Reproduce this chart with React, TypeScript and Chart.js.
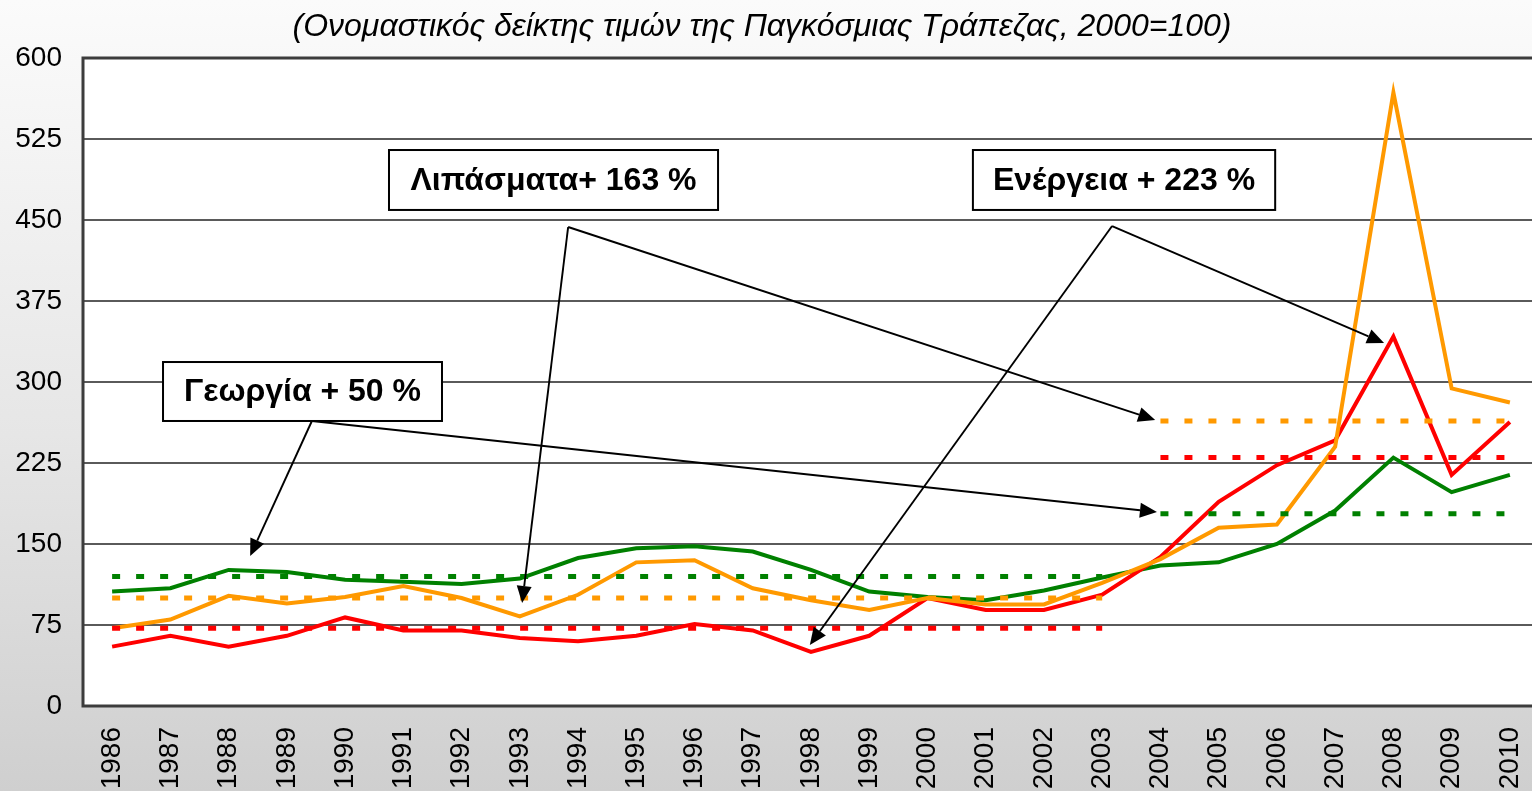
import { useEffect, useRef } from 'react';
import { Chart, registerables } from 'chart.js';

Chart.register(...registerables);

const titleText = '(Ονομαστικός δείκτης τιμών της Παγκόσμιας Τράπεζας, 2000=100)';

const years = ['1986', '1987', '1988', '1989', '1990', '1991', '1992', '1993', '1994', '1995', '1996', '1997', '1998', '1999', '2000', '2001', '2002', '2003', '2004', '2005', '2006', '2007', '2008', '2009', '2010'];

const agriculture = [106, 109, 126, 124, 117, 115, 113, 118, 137, 146, 148, 143, 126, 106, 101, 98, 107, 119, 130, 133, 150, 181, 230, 198, 214];
const fertilizers = [72, 80, 102, 95, 101, 111, 100, 83, 103, 133, 135, 109, 98, 89, 100, 94, 94, 114, 136, 165, 168, 240, 568, 294, 281];
const energy = [55, 65, 55, 65, 82, 70, 70, 63, 60, 65, 76, 70, 50, 65, 100, 89, 89, 103, 138, 189, 223, 246, 342, 214, 263];

// period averages: 1986–2003 and 2004–2010
const earlyYears = years.slice(0, 18);
const lateYears = years.slice(18);
const agriAvg = [120, 178];
const fertAvg = [100, 264];
const energyAvg = [72, 230];

const yTicks = [0, 75, 150, 225, 300, 375, 450, 525, 600];

const GREEN = '#008000';
const ORANGE = '#FF9900';
const RED = '#FF0000';

function periodLine(avg: number[], early: boolean) {
  return years.map((y) => {
    if (early) return earlyYears.includes(y) ? avg[0] : null;
    return lateYears.includes(y) ? avg[1] : null;
  });
}

// annotation boxes (anchored in data coordinates: category index, value)
const boxes = [
  { text: 'Λιπάσματα+ 163 %', x0: 4.754, x1: 10.404, yTop: 514.8, yBot: 459.3 },
  { text: 'Ενέργεια + 223 %', x0: 14.78, x1: 19.97, yTop: 514.8, yBot: 459.3 },
  { text: 'Γεωργία + 50 %', x0: 0.874, x1: 5.664, yTop: 318.5, yBot: 263.9 },
];

const arrows = [
  { from: [7.83, 443.5], to: [17.91, 264.8] },
  { from: [7.83, 443.5], to: [7.04, 95.4] },
  { from: [17.17, 444.4], to: [21.84, 336.1] },
  { from: [17.17, 444.4], to: [11.98, 56.5] },
  { from: [3.43, 263.9], to: [2.37, 138.9] },
  { from: [3.43, 263.9], to: [17.94, 179.6] },
];

const FONT = '"Liberation Sans", Arial, sans-serif';

const decorPlugin = {
  id: 'decor',
  beforeDraw(chart: any) {
    const { ctx, chartArea: a } = chart;
    ctx.save();
    ctx.fillStyle = '#ffffff';
    ctx.fillRect(a.left, a.top, a.right - a.left, a.bottom - a.top);
    ctx.restore();
  },
  beforeDatasetsDraw(chart: any) {
    const { ctx, chartArea: a } = chart;
    ctx.save();
    ctx.strokeStyle = '#3c3c3c';
    ctx.lineWidth = 3;
    ctx.strokeRect(a.left, a.top, a.right - a.left, a.bottom - a.top);
    ctx.restore();
  },
  afterDraw(chart: any) {
    const { ctx } = chart;
    const xs = chart.scales.x;
    const ys = chart.scales.y;
    const px = (i: number) => {
      const p0 = xs.getPixelForValue(0);
      const p1 = xs.getPixelForValue(1);
      return p0 + (p1 - p0) * i;
    };
    const py = (v: number) => ys.getPixelForValue(v);
    ctx.save();
    // title
    ctx.fillStyle = '#000';
    ctx.font = `italic 32px ${FONT}`;
    ctx.textAlign = 'center';
    ctx.textBaseline = 'middle';
    ctx.fillText(titleText, 762, 27, 940);

    // arrows
    ctx.strokeStyle = '#000';
    ctx.fillStyle = '#000';
    ctx.lineWidth = 1.9;
    arrows.forEach((ar) => {
      const x0 = px(ar.from[0]);
      const y0 = py(ar.from[1]);
      const x1 = px(ar.to[0]);
      const y1 = py(ar.to[1]);
      const ang = Math.atan2(y1 - y0, x1 - x0);
      const L = 17;
      const W = 7.5;
      const bx = x1 - L * Math.cos(ang);
      const by = y1 - L * Math.sin(ang);
      ctx.beginPath();
      ctx.moveTo(x0, y0);
      ctx.lineTo(bx, by);
      ctx.stroke();
      ctx.beginPath();
      ctx.moveTo(x1, y1);
      ctx.lineTo(bx + W * Math.sin(ang), by - W * Math.cos(ang));
      ctx.lineTo(bx - W * Math.sin(ang), by + W * Math.cos(ang));
      ctx.closePath();
      ctx.fill();
    });

    // boxes
    boxes.forEach((b) => {
      const l = px(b.x0);
      const r = px(b.x1);
      const t = py(b.yTop);
      const bt = py(b.yBot);
      ctx.fillStyle = '#ffffff';
      ctx.fillRect(l, t, r - l, bt - t);
      ctx.strokeStyle = '#000';
      ctx.lineWidth = 2;
      ctx.strokeRect(l, t, r - l, bt - t);
      ctx.fillStyle = '#000';
      ctx.font = `bold 32px ${FONT}`;
      ctx.textAlign = 'center';
      ctx.textBaseline = 'middle';
      ctx.fillText(b.text, (l + r) / 2, (t + bt) / 2 + 1);
    });
    ctx.restore();
  },
};

export default function App() {
  const ref = useRef<HTMLCanvasElement | null>(null);

  useEffect(() => {
    document.body.style.margin = '0';
    document.body.style.overflow = 'hidden';
    const canvas = ref.current;
    if (!canvas) return;
    const dashed = (data: (number | null)[], color: string) => ({
      data,
      borderColor: color,
      backgroundColor: color,
      borderWidth: 5,
      borderDash: [8, 16],
      borderCapStyle: 'butt',
      pointRadius: 0,
      tension: 0,
      spanGaps: false,
      fill: false,
    });
    const solid = (data: number[], color: string, label: string) => ({
      label,
      data,
      borderColor: color,
      backgroundColor: color,
      borderWidth: 4,
      pointRadius: 0,
      tension: 0,
      fill: false,
    });
    const chart = new Chart(canvas, {
      type: 'line',
      data: {
        labels: years,
        datasets: [
          dashed(periodLine(agriAvg, true), GREEN),
          dashed(periodLine(fertAvg, true), ORANGE),
          dashed(periodLine(energyAvg, true), RED),
          dashed(periodLine(agriAvg, false), GREEN),
          dashed(periodLine(fertAvg, false), ORANGE),
          dashed(periodLine(energyAvg, false), RED),
          solid(fertilizers, ORANGE, 'Λιπάσματα'),
          solid(energy, RED, 'Ενέργεια'),
          solid(agriculture, GREEN, 'Γεωργία'),
        ] as any,
      },
      options: {
        responsive: false,
        animation: false,
        devicePixelRatio: 1,
        layout: { padding: { top: 58, right: 21, left: 0, bottom: 0 } },
        plugins: {
          legend: { display: false },
          title: { display: false },
          tooltip: { enabled: false },
        },
        scales: {
          x: {
            offset: true,
            grid: { display: false, drawTicks: false, offset: true },
            border: { display: false },
            ticks: {
              color: '#000',
              font: { family: FONT, size: 28 },
              minRotation: 90,
              maxRotation: 90,
              autoSkip: false,
              padding: 21,
            },
            afterFit: (s: any) => {
              s.height = 94;
              s.paddingLeft = 0;
              s.paddingRight = 0;
            },
          },
          y: {
            min: 0,
            max: 600,
            afterBuildTicks: (s: any) => {
              s.ticks = yTicks.map((v) => ({ value: v }));
            },
            grid: { color: '#5a5a5a', lineWidth: 2, drawTicks: false },
            border: { display: false },
            ticks: {
              color: '#000',
              font: { family: FONT, size: 28 },
              padding: 21,
            },
            afterFit: (s: any) => {
              s.width = 83;
              s.paddingTop = 0;
              s.paddingBottom = 0;
            },
          },
        },
      } as any,
      plugins: [decorPlugin],
    });
    return () => chart.destroy();
  }, []);

  return (
    <div
      style={{
        width: 1532,
        height: 791,
        overflow: 'hidden',
        position: 'relative',
        background: 'linear-gradient(180deg, #fbfbfb 0%, #e6e6e6 55%, #cfcfcf 100%)',
      }}
    >
      <canvas ref={ref} width={1560} height={800} style={{ display: 'block', width: 1560, height: 800 }} />
    </div>
  );
}
